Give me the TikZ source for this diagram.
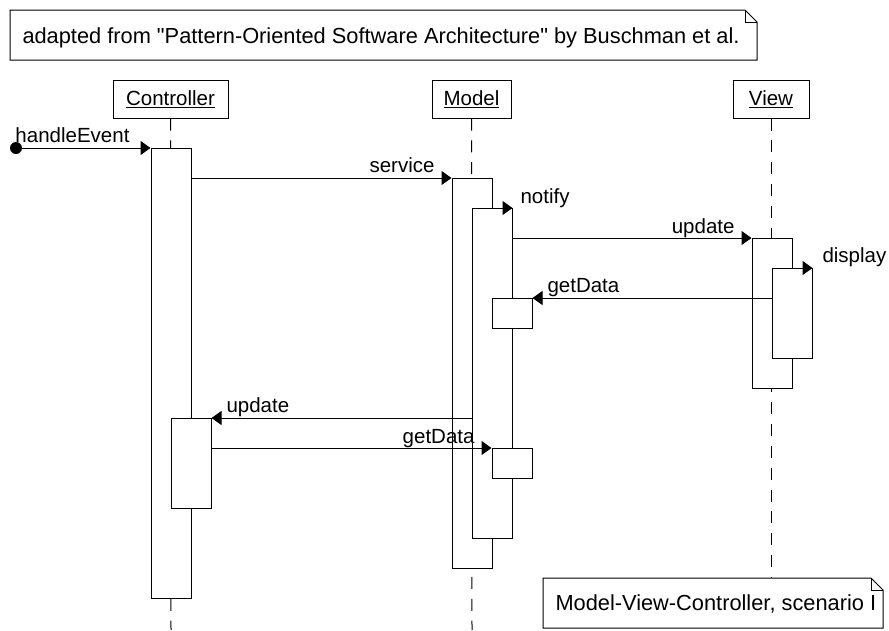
\documentclass[tikz,border=0pt]{standalone}
\usepackage{fontspec}
\setmainfont{Liberation Sans}
\newfontfamily\notefont{Liberation Sans}
\usetikzlibrary{arrows.meta}
\begin{document}
\begin{tikzpicture}[x=1pt,y=-1pt,line width=1pt,
  font=\fontsize{20.5}{24}\selectfont,
  actor/.style={draw,fill=white,minimum height=38pt,inner sep=0pt},
  act/.style={draw,fill=white,minimum width=40pt,inner sep=0pt,anchor=north},
  life/.style={dash pattern=on 12pt off 9.83pt},
  msg/.style={-{Triangle[length=10pt,width=14pt]}},
  lbl/.style={inner sep=0pt},
  notetext/.style={inner sep=0pt,font=\notefont\fontsize{21.8}{24}\selectfont}]
\useasboundingbox (0,0) rectangle (889,630);

% actors
\node[actor,minimum width=115pt] (ctrl) at (170.5,99) {\underline{Controller}};
\node[actor,minimum width=79pt] (model) at (471.5,99) {\underline{Model}};
\node[actor,minimum width=76pt] (view) at (771,99) {\underline{View}};

% bottom note (node for text)
\node[notetext,anchor=base west] (n2text) at (555,610) {Model-View-Controller, scenario I};
\coordinate (n2nw) at (543,578);
\coordinate (n2se) at (883,628);

% lifelines
\coordinate (cend) at (171,630);
\coordinate (mend) at (472,630);
\draw[life] (ctrl.south) -- (cend);
\draw[life] (model.south) -- (mend);
\draw[life] (view.south) -- (view.south |- n2nw);

% activations
\node[act,minimum height=450pt] (c1) at (171,148) {};
\node[act,minimum height=90pt] (c2) at (191,418) {};
\node[act,minimum height=390pt] (m1) at (472,178) {};
\node[act,minimum height=330pt] (m2) at (492,208) {};
\node[act,minimum height=30pt] (m3) at (512,298) {};
\node[act,minimum height=30pt] (m4) at (512,448) {};
\node[act,minimum height=150pt] (v1) at (772,238) {};
\node[act,minimum height=90pt] (v2) at (792,268) {};

% messages
\coordinate (start) at (16,148);
\fill (start) circle (6pt);
\draw[msg] (start) -- (c1.north west);
\node[lbl,anchor=base west] at (15,142) {handleEvent};

\draw[msg] (c1.east |- m1.north) -- (m1.north west);
\node[lbl,anchor=base east] at (435,172) {service};

\draw[msg] (m1.east |- m2.north) -- (m2.north east);
\node[lbl,anchor=base west] at (520,203) {notify};

\draw[msg] (m2.east |- v1.north) -- (v1.north west);
\node[lbl,anchor=base east] at (735,233) {update};

\draw[msg] (v1.east |- v2.north) -- (v2.north east);
\node[lbl,anchor=base west] at (822,262) {display};

\draw[msg] (v2.west |- m3.north) -- (m3.north east);
\node[lbl,anchor=base west] at (547,292) {getData};

\draw[msg] (m2.west |- c2.north) -- (c2.north east);
\node[lbl,anchor=base west] at (226,412) {update};

\draw[msg] (c2.east |- m4.north) -- (m4.north west);
\node[lbl,anchor=base east] at (475,443) {getData};

% top note
\node[notetext,anchor=base west] (n1text) at (22,43) {adapted from "Pattern-Oriented Software Architecture" by Buschman et al.};
\coordinate (n1nw) at (10,10);
\coordinate (n1se) at (757,60);
\draw (n1nw) -- (745,10) -- (757,22) -- (n1se) -- (10,60) -- cycle;
\draw (745,10) -- (745,22) -- (757,22);

% bottom note outline
\draw (n2nw) -- (871,578) -- (883,590) -- (n2se) -- (543,628) -- cycle;
\draw (871,578) -- (871,590) -- (883,590);
\end{tikzpicture}
\end{document}
